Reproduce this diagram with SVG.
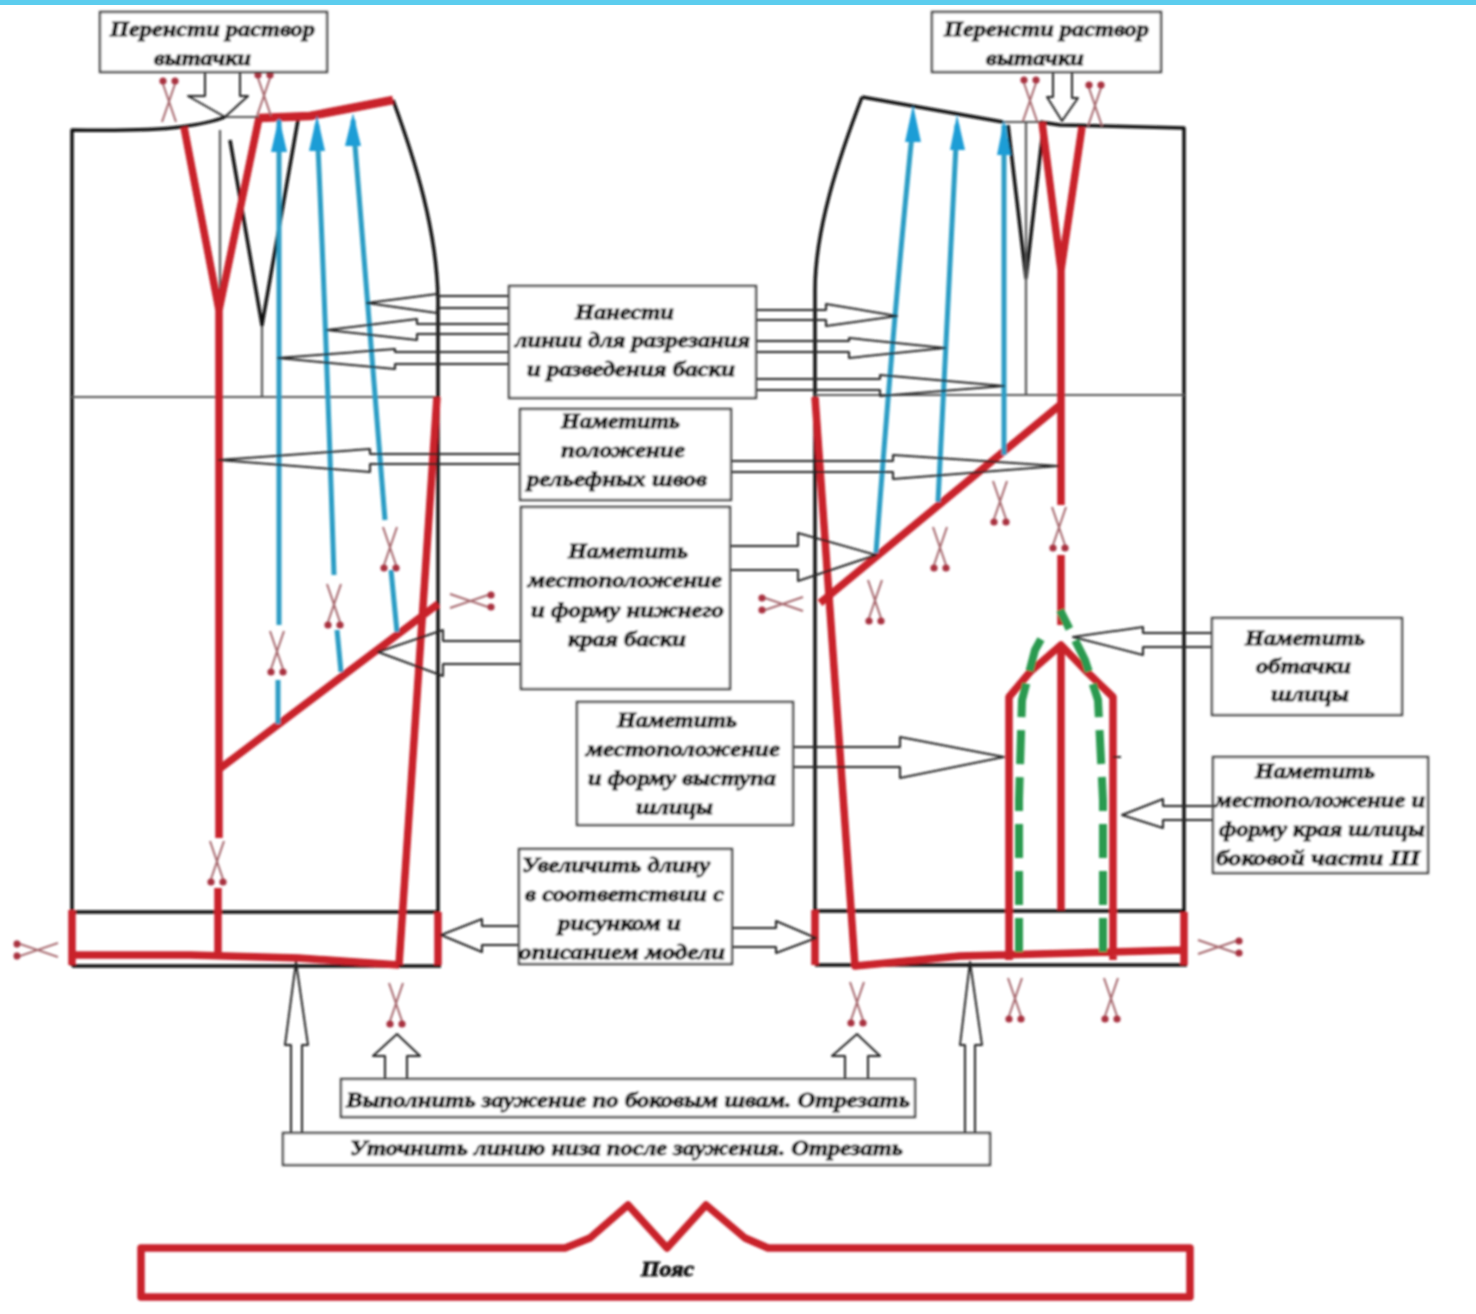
<svg xmlns="http://www.w3.org/2000/svg" xmlns:xlink="http://www.w3.org/1999/xlink" width="1476" height="1314" viewBox="0 0 1476 1314">
<style>
.bk{fill:none;stroke:#111;stroke-width:3.5;stroke-linejoin:round}
.thin{fill:none;stroke:#555;stroke-width:2.2}
.rd{fill:none;stroke:#c9202c;stroke-width:7.5;stroke-linejoin:round}
.bl{fill:none;stroke:#2a9cc4;stroke-width:5}
.hd{fill:#1f9dd6;stroke:none}
.gr{fill:none;stroke:#2a9a50;stroke-width:8;stroke-dasharray:34 13}
.ar{fill:none;stroke:#222;stroke-width:2;stroke-linejoin:round}
.box{fill:#fff;stroke:#444;stroke-width:2.4}
.s{fill:none;stroke:#a5666c;stroke-width:2}
.sd{fill:#a83340;stroke:none}
text{font-family:"Liberation Serif","Noto Sans",serif;font-weight:bold;font-style:italic;font-size:22px;fill:#111;stroke:#111;stroke-width:.9}
</style>
<defs>
<filter id="soft" filterUnits="userSpaceOnUse" x="0" y="0" width="1476" height="1314"><feGaussianBlur stdDeviation="0.85"/></filter>
<g id="sc"><path class="s" d="M-7-21L6 17M7-21L-6 17"/><circle class="sd" cx="-6" cy="20" r="3.6"/><circle class="sd" cx="6" cy="20" r="3.6"/></g>
</defs>
<rect width="1476" height="1314" fill="#fff"/>
<rect width="1476" height="5" fill="#5ccdee"/>
<g filter="url(#soft)">
<g id="left-panel">
<path class="bk" d="M72 966V130Q150 131 180 127T225 117"/>
<path class="thin" d="M225 117H259M220 130V397M72 397H438M262 325V397"/>
<path class="bk" d="M230 140L262 325L298 120"/>
<path class="bk" d="M393 100C415 160 437 230 438 300V397"/>
<path class="bk" d="M72 912H438M438 397V966M72 966H441"/>
<path class="rd" d="M184 127L219 310L259 118M219 310V838M218 888V955"/>
<path class="rd" style="stroke-width:8.5" d="M259 118L310 116L393 100"/>
<path class="rd" d="M437 397L399 965M72 910V965M438 912V965M72 955L190 955L298 958L399 965M218 770L438 604"/>
<path class="bl" d="M279 120V625M278 680V724M317 125Q325 300 334 575M337 630L341 672M353 120L385 520M391 570L397 632"/>
<path class="hd" d="M279 117L271 152H287ZM317 115L309 151H325ZM353 113L345 146H361Z"/>
</g>
<g id="right-panel">
<path class="bk" d="M1040 122L1060 125L1184 128V966M815 965H1187M862 97L1003 122M862 97C838 160 815 230 815 290V965"/>
<path class="bk" d="M1008 125L1026 278L1043 130M815 911H1184"/>
<path class="thin" d="M1003 122H1040M1026 122V395M815 395H1184"/>
<path class="rd" d="M1042 122L1061 270L1082 127M1061 270V505M1061 555V625M1060 405L820 603"/>
<path class="rd" d="M815 397L855 966L960 956L1184 950M1184 912V965M815 910V965M1009 960V697L1030 672L1061 645L1085 670L1113 697V960M1061 645V910"/>
<path class="bl" d="M913 125Q895 300 876 553M957 125Q945 350 938 502M1004 125V455"/>
<path class="hd" d="M913 105L905 142H921ZM957 115L950 150H965ZM1004 120L997 155H1011Z"/>
<path class="gr" d="M1019 952V800L1022 700L1035 650L1045 632"/>
<path class="gr" d="M1103 952V800L1098 700L1085 660L1060 610"/>
<path d="M1113 757H1121" stroke="#222" stroke-width="2"/>
</g>
<g id="belt"><path class="rd" d="M141 1248H565L590 1238L628 1205L667 1248L706 1205L745 1238L768 1248H1190V1297H141Z"/></g>
<g id="scissors">
<use xlink:href="#sc" href="#sc" transform="translate(169 101) rotate(180)"/>
<use xlink:href="#sc" href="#sc" transform="translate(264 95) rotate(180)"/>
<use xlink:href="#sc" href="#sc" transform="translate(1030 100) rotate(180)"/>
<use xlink:href="#sc" href="#sc" transform="translate(1095 105) rotate(180)"/>
<use xlink:href="#sc" href="#sc" transform="translate(390 548)"/>
<use xlink:href="#sc" href="#sc" transform="translate(334 605)"/>
<use xlink:href="#sc" href="#sc" transform="translate(277 652)"/>
<use xlink:href="#sc" href="#sc" transform="translate(217 862)"/>
<use xlink:href="#sc" href="#sc" transform="translate(396 1004)"/>
<use xlink:href="#sc" href="#sc" transform="translate(857 1003)"/>
<use xlink:href="#sc" href="#sc" transform="translate(1015 999)"/>
<use xlink:href="#sc" href="#sc" transform="translate(1111 999)"/>
<use xlink:href="#sc" href="#sc" transform="translate(875 601)"/>
<use xlink:href="#sc" href="#sc" transform="translate(940 548)"/>
<use xlink:href="#sc" href="#sc" transform="translate(1000 502)"/>
<use xlink:href="#sc" href="#sc" transform="translate(1059 528)"/>
<use xlink:href="#sc" href="#sc" transform="translate(37 950) rotate(90)"/>
<use xlink:href="#sc" href="#sc" transform="translate(471 601) rotate(-90)"/>
<use xlink:href="#sc" href="#sc" transform="translate(782 604) rotate(90)"/>
<use xlink:href="#sc" href="#sc" transform="translate(1219 947) rotate(-90)"/>
</g>
<g id="connectors">
<path class="ar" d="M509 296H437V294L367 303L437 313V308H509"/>
<path class="ar" d="M509 324H417V319L327 330L417 340V334H509"/>
<path class="ar" d="M509 352H395V349L278 358L395 369V364H509"/>
<path class="ar" d="M756 310H826V304L897 316L826 326V320H756"/>
<path class="ar" d="M756 341H849V338L945 348L849 358V352H756"/>
<path class="ar" d="M756 379H880V375L1004 386L880 396V390H756"/>
<path class="ar" d="M520 454H370V449L219 460L370 472V464H520"/>
<path class="ar" d="M731 461H893V455L1058 466L893 479V472H731"/>
<path class="ar" d="M730 546H798V533L876 555L798 581V570H730"/>
<path class="ar" d="M521 641H443V630L378 652L443 676V664H521"/>
<path class="ar" d="M793 747H900V737L1004 757L900 778V767H793"/>
<path class="ar" d="M1212 633H1143V627L1073 637L1143 655V647H1212"/>
<path class="ar" d="M1213 806H1163V799L1122 815L1163 828V820H1213"/>
<path class="ar" d="M519 926H482V919L441 935L482 952V945H519"/>
<path class="ar" d="M732 928H776V921L816 938L776 953V947H732"/>
<path class="ar" d="M385 1079V1056H373L397 1034L420 1056H407V1079"/>
<path class="ar" d="M845 1079V1056H832L857 1034L880 1056H868V1079"/>
<path class="ar" d="M291 1133V1045H285L296 962L308 1045H302V1133"/>
<path class="ar" d="M965 1133V1045H960L970 962L982 1045H975V1133"/>
<path class="ar" d="M205 72V96H188L225 117L248 96H240V72"/>
<path class="ar" d="M1053 72V97H1047L1062 121L1078 98H1072V72"/>
</g>
<g id="box-top-left"><rect class="box" x="100" y="12" width="227" height="60"/><text x="110" y="36" textLength="205" lengthAdjust="spacingAndGlyphs">Перенсти раствор</text><text x="154" y="65" textLength="97" lengthAdjust="spacingAndGlyphs">вытачки</text></g>
<g id="box-top-right"><rect class="box" x="932" y="12" width="229" height="60"/><text x="944" y="36" textLength="205" lengthAdjust="spacingAndGlyphs">Перенсти раствор</text><text x="986" y="65" textLength="98" lengthAdjust="spacingAndGlyphs">вытачки</text></g>
<g id="box-lines"><rect class="box" x="509" y="286" width="247" height="112"/><text x="575" y="319" textLength="99" lengthAdjust="spacingAndGlyphs">Нанести</text><text x="515" y="347" textLength="235" lengthAdjust="spacingAndGlyphs">линии для разрезания</text><text x="527" y="376" textLength="208" lengthAdjust="spacingAndGlyphs">и разведения баски</text></g>
<g id="box-relief"><rect class="box" x="520" y="409" width="211" height="91"/><text x="561" y="428" textLength="119" lengthAdjust="spacingAndGlyphs">Наметить</text><text x="561" y="457" textLength="124" lengthAdjust="spacingAndGlyphs">положение</text><text x="527" y="486" textLength="180" lengthAdjust="spacingAndGlyphs">рельефных швов</text></g>
<g id="box-edge"><rect class="box" x="521" y="507" width="209" height="182"/><text x="568" y="558" textLength="120" lengthAdjust="spacingAndGlyphs">Наметить</text><text x="528" y="587" textLength="194" lengthAdjust="spacingAndGlyphs">местоположение</text><text x="531" y="617" textLength="193" lengthAdjust="spacingAndGlyphs">и форму нижнего</text><text x="568" y="646" textLength="118" lengthAdjust="spacingAndGlyphs">края баски</text></g>
<g id="box-slit-shape"><rect class="box" x="577" y="702" width="216" height="123"/><text x="617" y="727" textLength="120" lengthAdjust="spacingAndGlyphs">Наметить</text><text x="586" y="756" textLength="194" lengthAdjust="spacingAndGlyphs">местоположение</text><text x="588" y="785" textLength="188" lengthAdjust="spacingAndGlyphs">и форму выступа</text><text x="636" y="814" textLength="77" lengthAdjust="spacingAndGlyphs">шлицы</text></g>
<g id="box-facing"><rect class="box" x="1212" y="618" width="190" height="97"/><text x="1245" y="645" textLength="120" lengthAdjust="spacingAndGlyphs">Наметить</text><text x="1256" y="673" textLength="95" lengthAdjust="spacingAndGlyphs">обтачки</text><text x="1271" y="701" textLength="78" lengthAdjust="spacingAndGlyphs">шлицы</text></g>
<g id="box-side"><rect class="box" x="1213" y="757" width="215" height="116"/><text x="1255" y="778" textLength="120" lengthAdjust="spacingAndGlyphs">Наметить</text><text x="1215" y="807" textLength="210" lengthAdjust="spacingAndGlyphs">местоположение и</text><text x="1219" y="836" textLength="206" lengthAdjust="spacingAndGlyphs">форму края шлицы</text><text x="1216" y="865" textLength="204" lengthAdjust="spacingAndGlyphs">боковой части III</text></g>
<g id="box-length"><rect class="box" x="519" y="849" width="213" height="115"/><text x="522" y="872" textLength="188" lengthAdjust="spacingAndGlyphs">Увеличить длину</text><text x="525" y="901" textLength="199" lengthAdjust="spacingAndGlyphs">в соответствии с</text><text x="558" y="930" textLength="123" lengthAdjust="spacingAndGlyphs">рисунком и</text><text x="519" y="959" textLength="206" lengthAdjust="spacingAndGlyphs">описанием модели</text></g>
<g id="box-narrow"><rect class="box" x="341" y="1079" width="574" height="38"/><text x="346" y="1107" textLength="564" lengthAdjust="spacingAndGlyphs">Выполнить заужение по боковым швам. Отрезать</text></g>
<g id="box-hem"><rect class="box" x="283" y="1133" width="707" height="32"/><text x="350" y="1155" textLength="553" lengthAdjust="spacingAndGlyphs">Уточнить линию низа после заужения. Отрезать</text></g>
<g id="belt-label"><text x="641" y="1276" textLength="53" lengthAdjust="spacingAndGlyphs">Пояс</text></g>
</g>
</svg>
